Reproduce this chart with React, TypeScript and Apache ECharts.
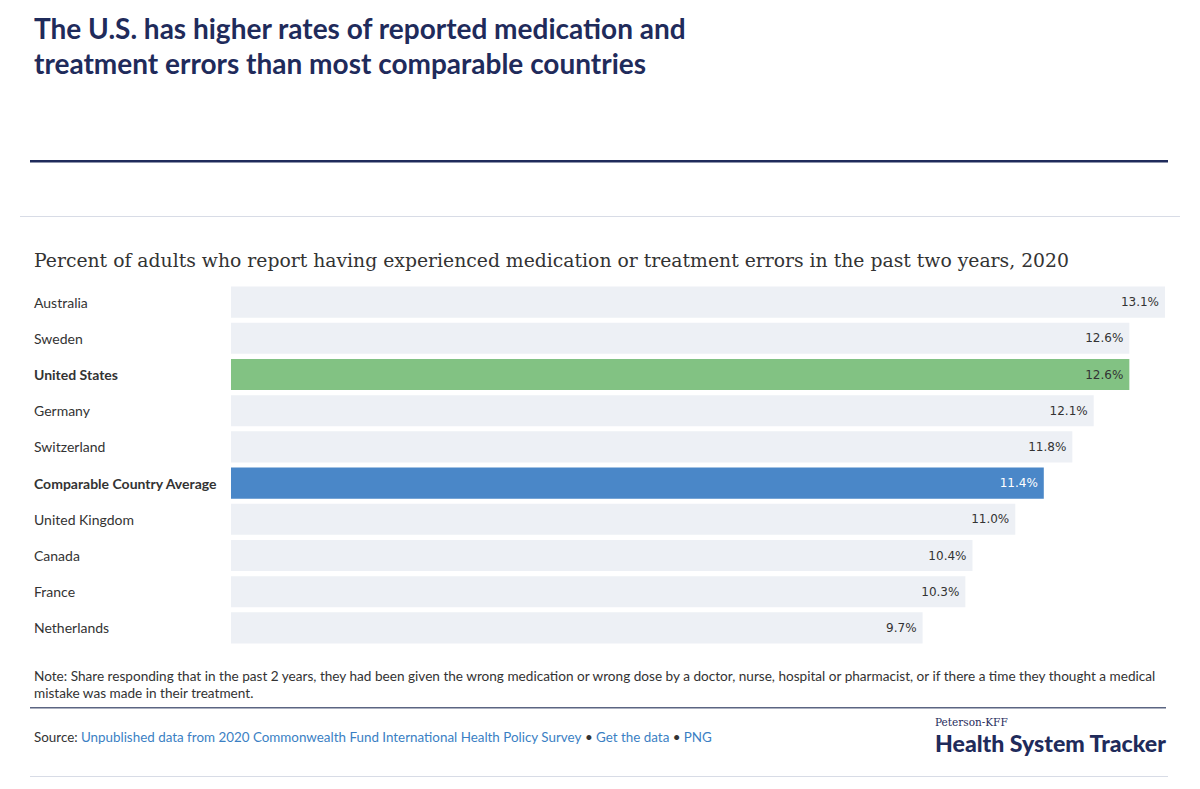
import React, { useEffect, useRef } from "react";
import * as echarts from "echarts";

const categories = [
  "Australia",
  "Sweden",
  "United States",
  "Germany",
  "Switzerland",
  "Comparable Country Average",
  "United Kingdom",
  "Canada",
  "France",
  "Netherlands",
];
const values = [13.1, 12.6, 12.6, 12.1, 11.8, 11.4, 11.0, 10.4, 10.3, 9.7];
const highlight: Record<string, string> = {
  "United States": "#82c283",
  "Comparable Country Average": "#4a87c8",
};
const boldCategories = ["United States", "Comparable Country Average"];

const titleLines = [
  "The U.S. has higher rates of reported medication and",
  "treatment errors than most comparable countries",
];
const subtitle =
  "Percent of adults who report having experienced medication or treatment errors in the past two years, 2020";
const noteLines = [
  "Note: Share responding that in the past 2 years, they had been given the wrong medication or wrong dose by a doctor, nurse, hospital or pharmacist, or if there a time they thought a medical",
  "mistake was made in their treatment.",
];

export default function App() {
  const ref = useRef<HTMLDivElement>(null);
  useEffect(() => {
    document.body.style.margin = "0";
    const chart = echarts.init(ref.current!, undefined, { renderer: "svg" });
    const navy = "#1f2b5b";
    chart.setOption({
      animation: false,
      backgroundColor: "#ffffff",
      grid: { left: 231, top: 284, width: 934, height: 362, containLabel: false },
      xAxis: {
        type: "value",
        min: 0,
        max: 13.1,
        show: false,
      },
      yAxis: {
        type: "category",
        data: categories,
        inverse: true,
        axisLine: { show: false },
        axisTick: { show: false },
        splitLine: { show: false },
        axisLabel: {
          align: "left",
          margin: 197,
          fontFamily: "Lato",
          fontSize: 14,
          color: "#333333",
          formatter: (v: string) => (boldCategories.includes(v) ? `{b|${v}}` : v),
          rich: {
            b: { fontFamily: "Lato", fontSize: 14, fontWeight: "bold", color: "#333333" },
          },
        },
      },
      series: [
        {
          type: "bar",
          barCategoryGap: "14%",
          data: categories.map((c, i) => ({
            value: values[i],
            itemStyle: { color: highlight[c] || "#edf0f5" },
            label: {
              color: c === "Comparable Country Average" ? "#ffffff" : "#333333",
            },
          })),
          label: {
            show: true,
            position: "insideRight",
            distance: 6,
            fontFamily: "DejaVu Sans",
            fontSize: 12,
            formatter: (p: any) => `${Number(p.value).toFixed(1)}%`,
          },
        },
      ],
      graphic: [
        {
          type: "text",
          left: 34,
          top: 10,
          style: {
            text: titleLines.join("\n"),
            fontFamily: "Lato",
            fontWeight: "bold",
            fontSize: 28,
            lineHeight: 35,
            fill: navy,
          },
        },
        {
          type: "rect",
          shape: { x: 30, y: 160, width: 1138, height: 2.5 },
          style: { fill: navy },
        },
        {
          type: "rect",
          shape: { x: 20, y: 216, width: 1160, height: 1 },
          style: { fill: "#d8dce6" },
        },
        {
          type: "text",
          left: 34,
          top: 251,
          style: {
            text: subtitle,
            fontFamily: "DejaVu Serif",
            fontSize: 18.8,
            fill: "#333333",
          },
        },
        {
          type: "text",
          left: 34,
          top: 667,
          style: {
            text: noteLines.join("\n"),
            fontFamily: "Lato",
            fontSize: 13.6,
            lineHeight: 17,
            fill: "#333333",
          },
        },
        {
          type: "rect",
          shape: { x: 30, y: 707, width: 1136, height: 1.5 },
          style: { fill: "#5b6582" },
        },
        {
          type: "text",
          left: 34,
          top: 730,
          style: {
            text:
              "{s|Source:} {l|Unpublished data from 2020 Commonwealth Fund International Health Policy Survey} {s|•} {l|Get the data} {s|•} {l|PNG}",
            rich: {
              s: { fontFamily: "Lato", fontSize: 13.4, fill: "#333333" },
              l: { fontFamily: "Lato", fontSize: 13.4, fill: "#3b7fc4" },
            },
          },
        },
        {
          type: "text",
          left: 935,
          top: 716,
          style: {
            text: "Peterson-KFF",
            fontFamily: "DejaVu Serif",
            fontSize: 10.5,
            fill: navy,
          },
        },
        {
          type: "text",
          left: 935,
          top: 731,
          style: {
            text: "Health System Tracker",
            fontFamily: "Lato",
            fontWeight: 900,
            fontSize: 23.1,
            fill: navy,
          },
        },
        {
          type: "rect",
          shape: { x: 30, y: 776, width: 1138, height: 1 },
          style: { fill: "#d8dce6" },
        },
      ],
    });
    return () => chart.dispose();
  }, []);
  return <div ref={ref} style={{ width: 1200, height: 789 }} />;
}
